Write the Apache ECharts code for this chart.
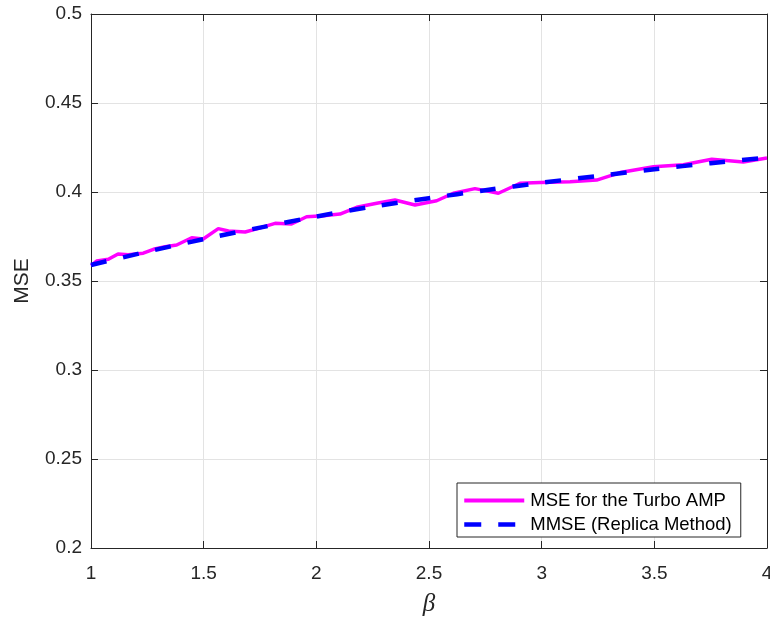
<!DOCTYPE html>
<html>
<head>
<meta charset="utf-8">
<script src="https://cdn.jsdelivr.net/npm/echarts@6/dist/echarts.min.js"></script>
<style>
html,body{margin:0;padding:0;background:#fff;overflow:hidden;}
#chart{width:770px;height:626px;}
</style>
</head>
<body>
<div id="chart"></div>
<script>
var seriesNames = ['MSE for the Turbo AMP', 'MMSE (Replica Method)'];
var betaTurbo = [1.0,1.025,1.077,1.12,1.165,1.232,1.277,1.329,1.38,1.447,1.498,1.565,1.61,1.684,1.743,1.817,1.89,1.957,2.031,2.105,2.179,2.268,2.349,2.438,2.534,2.608,2.704,2.808,2.904,2.993,3.126,3.244,3.348,3.496,3.629,3.755,3.895,4.0];
var mseTurbo = [0.3586,0.3612,0.3622,0.3652,0.3648,0.3656,0.3678,0.3693,0.3702,0.3743,0.3736,0.3794,0.3781,0.3775,0.3796,0.3824,0.3820,0.3861,0.3867,0.3876,0.3914,0.3937,0.3955,0.3927,0.3951,0.3993,0.4019,0.3993,0.4049,0.4054,0.4058,0.4067,0.4109,0.4142,0.4153,0.4184,0.4169,0.4191];
var betaMMSE = [1.0,1.25,1.5,1.75,2.0,2.25,2.5,2.75,3.0,3.25,3.5,3.75,4.0];
var mmse = [0.3590,0.3665,0.3735,0.3800,0.3862,0.3918,0.3965,0.4010,0.4052,0.4090,0.4128,0.4162,0.4193];
var xTicks = ['1','1.5','2','2.5','3','3.5','4'];
var yTicks = ['0.2','0.25','0.3','0.35','0.4','0.45','0.5'];

function pairs(xs, ys){ return xs.map(function(x,i){ return [x, ys[i]]; }); }

var FONT = 'Liberation Sans, Arial, sans-serif';
var AX = '#262626';

var chart = echarts.init(document.getElementById('chart'), null, {renderer:'canvas'});
var option = {
  animation: false,
  backgroundColor: '#ffffff',
  grid: {left: 91, right: 3, top: 14, bottom: 78, containLabel: false, outerBoundsMode: 'none'},
  xAxis: [{
    type: 'value', min: 1, max: 4, interval: 0.5,
    axisLine: {show: true, onZero: false, lineStyle: {color: AX, width: 1}},
    axisTick: {show: true, inside: true, length: 7, lineStyle: {color: AX}},
    axisLabel: {color: AX, fontSize: 19, fontFamily: FONT, margin: 16,
      formatter: function(v){ var s = String(v); return xTicks.indexOf(s) >= 0 ? s : ''; }},
    splitLine: {show: true, lineStyle: {color: '#e3e3e3', width: 1}},
    name: '\u03b2', nameLocation: 'middle', nameGap: 44,
    nameTextStyle: {color: AX, fontSize: 25, fontStyle: 'italic', fontFamily: 'Liberation Serif, Times New Roman, serif'}
  }, {
    type: 'value', min: 1, max: 4, interval: 0.5, position: 'top',
    axisLine: {show: true, onZero: false, lineStyle: {color: AX, width: 1}},
    axisTick: {show: true, inside: true, length: 7, lineStyle: {color: AX}},
    axisLabel: {show: false}, splitLine: {show: false}
  }],
  yAxis: [{
    type: 'value', min: 0.2, max: 0.5, interval: 0.05,
    axisLine: {show: true, onZero: false, lineStyle: {color: AX, width: 1}},
    axisTick: {show: true, inside: true, length: 7, lineStyle: {color: AX}},
    axisLabel: {color: AX, fontSize: 19, fontFamily: FONT, margin: 9,
      formatter: function(v){ var s = String(+v.toFixed(2)); return yTicks.indexOf(s) >= 0 ? s : ''; }},
    splitLine: {show: true, lineStyle: {color: '#e3e3e3', width: 1}},
    name: 'MSE', nameLocation: 'middle', nameGap: 58, nameRotate: 90,
    nameTextStyle: {color: AX, fontSize: 21, fontFamily: FONT}
  }, {
    type: 'value', min: 0.2, max: 0.5, interval: 0.05, position: 'right',
    axisLine: {show: true, onZero: false, lineStyle: {color: AX, width: 1}},
    axisTick: {show: true, inside: true, length: 7, lineStyle: {color: AX}},
    axisLabel: {show: false}, splitLine: {show: false}
  }],
  legend: {
    orient: 'vertical', left: 457, top: 483,
    backgroundColor: '#ffffff', borderColor: AX, borderWidth: 1, borderRadius: 0,
    padding: [8, 9, 3, 5], itemWidth: 60, itemHeight: 14, itemGap: 5,
    itemStyle: {opacity: 0},
    textStyle: {color: '#000', fontSize: 18.5, fontFamily: FONT, padding: [0,0,0,1]},
    data: [
      {name: seriesNames[0], lineStyle: {width: 4, color: '#ff00ff'}},
      {name: seriesNames[1], lineStyle: {width: 4.5, color: '#0000ff', type: [17, 17]}}
    ]
  },
  series: [{
    name: seriesNames[0], type: 'line', xAxisIndex: 0, yAxisIndex: 0,
    data: pairs(betaTurbo, mseTurbo), showSymbol: false, symbol: 'none',
    lineStyle: {color: '#ff00ff', width: 3.5}, itemStyle: {color: '#ff00ff'}, z: 2
  }, {
    name: seriesNames[1], type: 'line', xAxisIndex: 0, yAxisIndex: 0,
    data: pairs(betaMMSE, mmse), showSymbol: false, symbol: 'none', smooth: 0.3,
    lineStyle: {color: '#0000ff', width: 4.5, type: [16, 17], cap: 'butt'}, itemStyle: {color: '#0000ff'}, z: 3
  }]
};
chart.setOption(option);
</script>
</body>
</html>
